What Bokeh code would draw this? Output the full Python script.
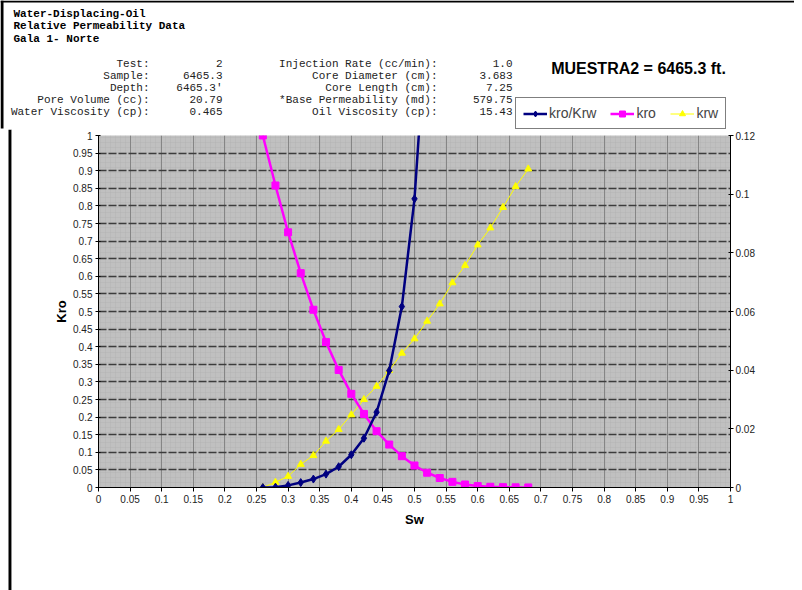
from bokeh.plotting import figure
from bokeh.models import (Range1d, LinearAxis, FixedTicker, Label, Legend,
                          LegendItem, BoxAnnotation)
from bokeh.layouts import column, row
from bokeh.embed import file_html
from bokeh.resources import INLINE

# ---------------- data ----------------
sw = [0.26, 0.28, 0.30, 0.32, 0.34, 0.36, 0.38, 0.40, 0.42, 0.44, 0.46,
      0.48, 0.50, 0.52, 0.54, 0.56, 0.58, 0.60, 0.62, 0.64, 0.66, 0.68]
kro = [1.0, 0.858, 0.725, 0.609, 0.505, 0.413, 0.334, 0.266, 0.209, 0.160,
       0.122, 0.089, 0.0625, 0.042, 0.027, 0.016, 0.0085, 0.004, 0.002,
       0.001, 0.0005, 0.0002]
krw = [0.0, 0.0018, 0.0038, 0.0079, 0.0109, 0.0158, 0.0198, 0.0248, 0.030,
       0.0345, 0.0399, 0.0458, 0.0507, 0.0567, 0.0626, 0.0698, 0.0757,
       0.0827, 0.0885, 0.0955, 0.1026, 0.1086]
sw_ratio = [0.26, 0.28, 0.30, 0.32, 0.34, 0.36, 0.38, 0.40, 0.42, 0.44,
            0.46, 0.48, 0.50, 0.52]
kro_krw = [0.0, 0.001, 0.006, 0.014, 0.024, 0.038, 0.059, 0.093, 0.140,
           0.214, 0.332, 0.514, 0.82, 1.35]

x_ticks = [round(i * 0.05, 2) for i in range(21)]
y_ticks = [round(i * 0.05, 2) for i in range(21)]
y2_ticks = [round(i * 0.02, 2) for i in range(7)]

header_lines = ["Water-Displacing-Oil", "Relative Permeability Data", "Gala 1- Norte"]
left_keys = ["Test:", "Sample:", "Depth:", "Pore Volume (cc):", "Water Viscosity (cp):"]
left_vals = ["2", "6465.3", "6465.3'", "20.79", "0.465"]
mid_keys = ["Injection Rate (cc/min):", "Core Diameter (cm):", "Core Length (cm):",
            "*Base Permeability (md):", "Oil Viscosity (cp):"]
mid_vals = ["1.0", "3.683", "7.25", "579.75", "15.43"]
chart_title = "MUESTRA2 = 6465.3 ft."
legend_labels = ["kro/Krw", "kro", "krw"]

NAVY = "#000080"
MAGENTA = "#FF00FF"
YELLOW = "#FFFF00"
SANS = "Liberation Sans"
MONO = "Liberation Mono"

W = 794
HEAD_H = 129
STRIP_W = 12
MAIN_H = 590 - HEAD_H

# ---------------- header (texts + legend) ----------------
head = figure(width=W, height=HEAD_H, x_range=Range1d(0, W),
              y_range=Range1d(HEAD_H, 0), x_axis_type=None, y_axis_type=None,
              output_backend="svg", toolbar_location=None, min_border=0,
              outline_line_color=None, background_fill_color="white",
              border_fill_color="white")
head.grid.visible = False


def add_label(px, py, text, font=MONO, size="11px", align="left",
              style="normal", color="black"):
    head.add_layout(Label(x=px, y=py, text=text, text_font=font,
                          text_font_size=size, text_align=align,
                          text_baseline="middle", text_font_style=style,
                          text_color=color))


for i, t in enumerate(header_lines):
    add_label(13, 13 + i * 12.5, t, style="bold")
for i in range(5):
    py = 63 + i * 12
    add_label(149, py, left_keys[i], align="right", color="#222222")
    add_label(222, py, left_vals[i], align="right", color="#222222")
    add_label(437, py, mid_keys[i], align="right", color="#222222")
    add_label(512, py, mid_vals[i], align="right", color="#222222")

add_label(638, 68, chart_title, font=SANS, size="16px", align="center",
          style="bold")

# screenshot frame bits (top black line, left black bar)
head.add_layout(BoxAnnotation(left=0, right=W, top=0, bottom=2,
                              fill_color="black", fill_alpha=1, line_color=None))
head.add_layout(BoxAnnotation(left=0, right=3, top=0, bottom=128,
                              fill_color="black", fill_alpha=1, line_color=None))

# legend swatches (same styles as the series in the chart); the single
# point of each lies off the canvas, only the legend swatch is seen
off = [-100]
d_lr = head.line(off, off, line_color=NAVY, line_width=2.5)
d_sr = head.scatter(off, off, marker="diamond", size=8, fill_color=NAVY, line_color=NAVY)
d_lo = head.line(off, off, line_color=MAGENTA, line_width=2.5)
d_so = head.scatter(off, off, marker="square", size=7, fill_color=MAGENTA, line_color=MAGENTA)
d_lw = head.line(off, off, line_color=YELLOW, line_width=1)
d_sw = head.scatter(off, off, marker="triangle", size=7, fill_color=YELLOW, line_color=YELLOW)

legend = Legend(items=[LegendItem(label=legend_labels[0], renderers=[d_lr, d_sr]),
                       LegendItem(label=legend_labels[1], renderers=[d_lo, d_so]),
                       LegendItem(label=legend_labels[2], renderers=[d_lw, d_sw])],
                orientation="horizontal", location=(515, 0),
                border_line_color="black", border_line_width=1,
                background_fill_color="white", background_fill_alpha=1,
                label_text_font=SANS, label_text_font_size="14px",
                glyph_width=24, glyph_height=15, label_height=15,
                label_standoff=2, spacing=14, padding=7, margin=0)
head.add_layout(legend)

# ---------------- left strip (black bar of the screenshot) ----------------
strip = figure(width=STRIP_W, height=MAIN_H, x_range=Range1d(0, STRIP_W),
               y_range=Range1d(0, MAIN_H), x_axis_type=None, y_axis_type=None,
               output_backend="svg", toolbar_location=None, min_border=0,
               outline_line_color=None, background_fill_color="white",
               border_fill_color="white")
strip.grid.visible = False
strip.add_layout(BoxAnnotation(left=8, right=11, fill_color="black",
                               fill_alpha=1, line_color=None))
strip.add_layout(BoxAnnotation(left=11, right=12, fill_color="#A0A0A0",
                               fill_alpha=1, line_color=None))

# ---------------- main chart ----------------
p = figure(width=W - STRIP_W, height=MAIN_H, x_range=Range1d(0, 1),
           y_range=Range1d(0, 1), output_backend="svg", toolbar_location=None,
           min_border_left=98 - STRIP_W, min_border_right=W - 730,
           min_border_top=135 - HEAD_H, min_border_bottom=MAIN_H - (135 - HEAD_H) - 352,
           background_fill_color="#C0C0C0", border_fill_color="white",
           outline_line_color=None, x_axis_label="Sw", y_axis_label="Kro")
p.extra_y_ranges = {"y2": Range1d(0, 0.12)}

# texture of the plot area
p.add_layout(BoxAnnotation(level="image", fill_alpha=0, line_color=None,
                           hatch_pattern="+", hatch_color="#B4B4B4",
                           hatch_scale=5, hatch_weight=1, hatch_alpha=0.5))


def fmt(v):
    return f"{v:g}"


p.xaxis.ticker = FixedTicker(ticks=x_ticks)
p.xaxis.major_label_overrides = {t: fmt(t) for t in x_ticks}
p.yaxis.ticker = FixedTicker(ticks=y_ticks)
p.yaxis.major_label_overrides = {t: fmt(t) for t in y_ticks}

ax2 = LinearAxis(y_range_name="y2", ticker=FixedTicker(ticks=y2_ticks),
                 major_label_overrides={t: fmt(t) for t in y2_ticks})
p.add_layout(ax2, "right")

for ax in [p.xaxis[0], p.yaxis[0], ax2]:
    ax.axis_line_color = "black"
    ax.axis_line_width = 1
    ax.major_tick_line_color = "black"
    ax.minor_tick_line_color = None
    ax.major_tick_in = 2
    ax.major_tick_out = 3
    ax.major_label_text_font = SANS
    ax.major_label_text_font_size = "10px"
    ax.major_label_text_color = "#222222"
    ax.axis_label_text_font = SANS
    ax.axis_label_text_font_size = "13px"
    ax.axis_label_text_font_style = "bold"
    ax.axis_label_text_color = "black"

p.xaxis.major_tick_in = 0
p.xaxis.major_tick_out = 4
p.xaxis.major_label_standoff = 3
p.xaxis.axis_label_standoff = 6
p.yaxis.major_label_standoff = 3
p.yaxis.axis_label_standoff = 1
ax2.major_label_standoff = 2

p.xgrid.ticker = FixedTicker(ticks=x_ticks[1:-1])
p.xgrid.grid_line_color = "#858585"
p.xgrid.grid_line_width = 1
p.ygrid.ticker = FixedTicker(ticks=y_ticks[1:-1])
p.ygrid.grid_line_color = "#3C3C3C"
p.ygrid.grid_line_width = 1.5
p.ygrid.grid_line_dash = "8 2"

# ---------------- series ----------------
p.line(sw, krw, y_range_name="y2", line_color=YELLOW, line_width=1)
p.scatter(sw, krw, y_range_name="y2", marker="triangle", size=7,
          fill_color=YELLOW, line_color=YELLOW)
p.line(sw, kro, line_color=MAGENTA, line_width=2.5)
p.scatter(sw, kro, marker="square", size=7, fill_color=MAGENTA,
          line_color=MAGENTA)
p.line(sw_ratio, kro_krw, line_color=NAVY, line_width=2.5)
p.scatter(sw_ratio, kro_krw, marker="diamond", size=8, fill_color=NAVY,
          line_color=NAVY)

layout = column(head, row(column(strip), p, spacing=0), spacing=0)

open("out.html", "w").write(file_html(layout, INLINE))
